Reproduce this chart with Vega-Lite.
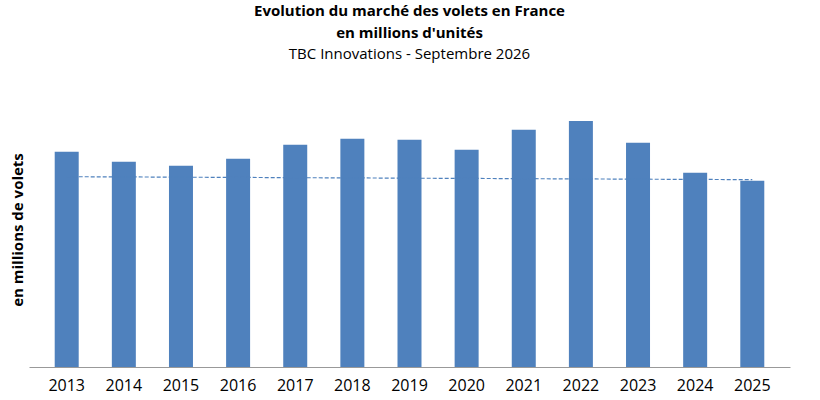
{
  "$schema": "https://vega.github.io/schema/vega-lite/v6.json",
  "width": 820,
  "height": 400,
  "autosize": {"type": "fit", "contains": "padding"},
  "padding": {"left": 10, "right": 30, "top": 4, "bottom": 7},
  "background": "white",
  "view": {"stroke": null},
  "title": {
    "text": ["Evolution du marché des volets en France", "en millions d'unités"],
    "subtitle": "TBC Innovations - Septembre 2026",
    "font": "Open Sans",
    "fontSize": 15,
    "fontWeight": "bold",
    "subtitleFont": "Open Sans",
    "subtitleFontSize": 15,
    "subtitleColor": "black",
    "subtitlePadding": 6,
    "lineHeight": 22,
    "anchor": "middle",
    "offset": 30
  },
  "data": {
    "values": [
      {"annee": "2013", "ventes": 216, "tendance": 191},
      {"annee": "2014", "ventes": 206, "tendance": 190.8},
      {"annee": "2015", "ventes": 202, "tendance": 190.5},
      {"annee": "2016", "ventes": 209, "tendance": 190.3},
      {"annee": "2017", "ventes": 223, "tendance": 190},
      {"annee": "2018", "ventes": 229, "tendance": 189.8},
      {"annee": "2019", "ventes": 228, "tendance": 189.5},
      {"annee": "2020", "ventes": 218, "tendance": 189.3},
      {"annee": "2021", "ventes": 238, "tendance": 189},
      {"annee": "2022", "ventes": 247, "tendance": 188.8},
      {"annee": "2023", "ventes": 225, "tendance": 188.5},
      {"annee": "2024", "ventes": 195, "tendance": 188.3},
      {"annee": "2025", "ventes": 187, "tendance": 188}
    ]
  },
  "encoding": {
    "x": {
      "field": "annee",
      "type": "ordinal",
      "title": null,
      "scale": {"paddingInner": 0.58, "paddingOuter": 0.45},
      "axis": {"labelAngle": 0, "labelFontSize": 16, "labelFont": "Open Sans", "labelColor": "black", "ticks": false, "domainColor": "#999", "labelPadding": 10}
    }
  },
  "layer": [
    {
      "mark": {"type": "bar", "color": "#4f81bd"},
      "encoding": {
        "y": {
          "field": "ventes",
          "type": "quantitative",
          "scale": {"domain": [0, 276], "nice": false},
          "title": "en millions de volets",
          "axis": {"labels": false, "ticks": false, "domain": false, "grid": false, "titleFont": "Open Sans", "titleFontSize": 15, "titleFontWeight": "bold", "titleColor": "black", "titlePadding": 4}
        }
      }
    },
    {
      "mark": {"type": "line", "color": "#4f81bd", "strokeDash": [4, 2], "strokeWidth": 1.2},
      "encoding": {"y": {"field": "tendance", "type": "quantitative"}}
    }
  ]
}
